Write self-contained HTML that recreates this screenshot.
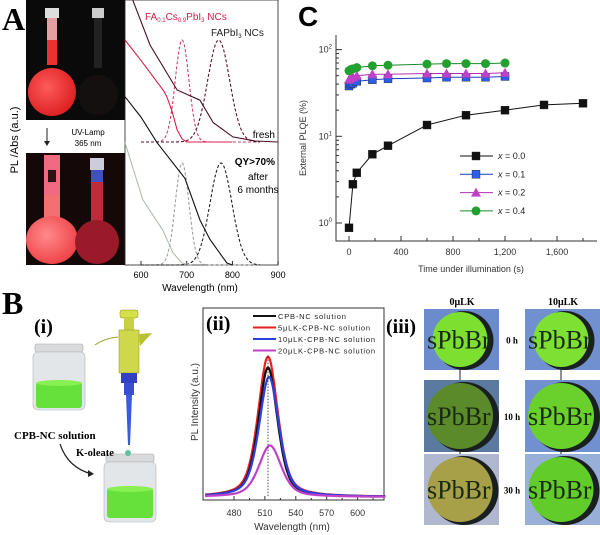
<!DOCTYPE html>
<html><head><meta charset="utf-8"><style>
html,body{margin:0;padding:0;background:#fff}
svg{display:block;font-family:"Liberation Sans",sans-serif}
.ser{font-family:"Liberation Serif",serif;font-weight:bold}
</style></head><body>
<svg id="fig" width="600" height="535" viewBox="0 0 600 535" xmlns="http://www.w3.org/2000/svg">
<defs>
<radialGradient id="redg" cx="0.4" cy="0.4" r="0.7"><stop offset="0" stop-color="#ff5a5a"/><stop offset="1" stop-color="#d81a1a"/></radialGradient>
<radialGradient id="pinkg" cx="0.4" cy="0.4" r="0.7"><stop offset="0" stop-color="#ff8a8a"/><stop offset="1" stop-color="#ee3a40"/></radialGradient>
</defs>
<!-- Panel A -->
<text x="2" y="30" class="ser" font-size="32">A</text>
<g>
<rect x="26" y="0" width="99" height="120" fill="#0a0a0a"/>
<rect x="45" y="8" width="14" height="10" fill="#ddd"/>
<rect x="47" y="18" width="10" height="22" fill="#e4a0a0"/>
<rect x="47" y="40" width="10" height="25" fill="#ef3030"/>
<ellipse cx="52" cy="92" rx="24" ry="24" fill="url(#redg)"/>
<rect x="92" y="8" width="12" height="10" fill="#ccc"/>
<rect x="94" y="18" width="8" height="50" fill="#222"/>
<ellipse cx="98" cy="95" rx="20" ry="20" fill="#141010"/>
</g>
<g>
<line x1="47" y1="128" x2="47" y2="144" stroke="#222" stroke-width="1"/>
<path d="M44 141 L47 146 L50 141 Z" fill="#222"/>
<text x="88" y="135" font-size="8" text-anchor="middle">UV-Lamp</text>
<text x="88" y="146" font-size="8" text-anchor="middle">365 nm</text>
</g>
<g>
<rect x="26" y="153" width="99" height="112" fill="#140808"/>
<rect x="44" y="155" width="16" height="40" fill="#f06a80"/>
<rect x="48" y="170" width="8" height="12" fill="#301010"/>
<rect x="44" y="195" width="16" height="25" fill="#f27070"/>
<ellipse cx="52" cy="240" rx="26" ry="24" fill="url(#pinkg)"/>
<rect x="90" y="158" width="14" height="12" fill="#ccd"/>
<rect x="91" y="170" width="12" height="12" fill="#4050c0"/>
<rect x="91" y="182" width="12" height="40" fill="#c22a3a"/>
<ellipse cx="97" cy="242" rx="22" ry="22" fill="#9a1a2a"/>
</g>
<text transform="translate(18,140) rotate(-90)" font-size="11" text-anchor="middle">PL /Abs (a.u.)</text>
<g id="panelA"></g>
<!-- Panel C -->
<text x="298" y="26" font-size="28" font-weight="bold">C</text>
<g id="panelC"></g>
<!-- Panel B -->
<text x="2" y="314" class="ser" font-size="32">B</text>
<text x="34" y="333" class="ser" font-size="20">(i)</text>
<g>
<rect x="35" y="344" width="48" height="8" rx="2" fill="#d8dadc" stroke="#aaa" stroke-width="0.6"/>
<rect x="33" y="352" width="52" height="58" rx="5" fill="#e2e6e8" stroke="#b0b4b8" stroke-width="0.6"/>
<rect x="36" y="382" width="46" height="26" rx="3" fill="#66e03a"/>
<ellipse cx="59" cy="383" rx="23" ry="3" fill="#88f050"/>
<text x="14" y="439" class="ser" font-size="11">CPB-NC solution</text>
<path d="M60 444 Q68 468 92 474" fill="none" stroke="#222" stroke-width="1.2"/>
<path d="M88 470 L94 474 L88 477 Z" fill="#222"/>
<rect x="106" y="454" width="48" height="8" rx="2" fill="#d8dadc" stroke="#aaa" stroke-width="0.6"/>
<rect x="104" y="462" width="52" height="60" rx="5" fill="#e2e6e8" stroke="#b0b4b8" stroke-width="0.6"/>
<rect x="107" y="488" width="46" height="30" rx="3" fill="#66e03a"/>
<ellipse cx="130" cy="489" rx="23" ry="3" fill="#88f050"/>
<ellipse cx="128" cy="453" rx="3" ry="3" fill="#5fc0a0"/>
<text x="76" y="456" class="ser" font-size="10.5">K-oleate</text>
</g>
<g>
<rect x="120" y="310" width="18" height="8" rx="2" fill="#d6e04a" stroke="#8a9020" stroke-width="0.5"/>
<rect x="124" y="318" width="10" height="12" fill="#c8d040"/>
<rect x="119" y="330" width="20" height="43" fill="#cfd84a" stroke="#8a9020" stroke-width="0.5"/>
<path d="M139 334 L152 333 L140 346 Z" fill="#b8c038"/>
<path d="M95 345 Q105 338 118 337" fill="none" stroke="#9aa030" stroke-width="1"/>
<rect x="121" y="373" width="16" height="10" fill="#3040c0"/>
<rect x="124" y="383" width="10" height="12" fill="#3a4cd0"/>
<path d="M126 395 L132 395 L130 445 L128 445 Z" fill="#3a5ae0"/>
</g>
<!-- Panel ii -->
<g id="panelB2"></g>
<!-- Panel iii -->
<text x="386" y="333" class="ser" font-size="20">(iii)</text>
<text x="462" y="305" class="ser" font-size="10" text-anchor="middle">0μLK</text>
<text x="563" y="305" class="ser" font-size="10" text-anchor="middle">10μLK</text>
<g id="panelIII"></g>
</svg>
<script>
var NS="http://www.w3.org/2000/svg";
function mk(parent,tag,attrs){var e=document.createElementNS(NS,tag);for(var k in attrs)e.setAttribute(k,attrs[k]);parent.appendChild(e);return e;}
function tx(parent,x,y,s,attrs){var e=mk(parent,"text",Object.assign({x:x,y:y},attrs||{}));e.textContent=s;return e;}

/* ---------- Panel A data ---------- */
var aTicks=[600,700,800,900];
var aPLpeaks=[690,770,690,775];
var aPLheights=[1.0,1.0,1.0,1.0];
var aPLwidths=[15,24,15,24];
var aAbsRedWl=[565,600,630,650,657,668,679,690,700,800];
var aAbsRedVal=[1.0,0.8,0.62,0.5,0.44,0.3,0.12,0.03,0,0];
var aAbsMarWl=[582,620,679,729,758,801,850,900];
var aAbsMarVal=[1.39,0.95,0.51,0.41,0.19,0.05,0.01,0];
var aAbsBlkWl=[565,600,635,696,729,751,788,800];
var aAbsBlkVal=[1.65,1.45,1.2,0.85,0.44,0.25,0.02,0];
var aAbsGryWl=[565,604,648,670,690,710];
var aAbsGryVal=[1.2,0.64,0.34,0.12,0.02,0];
(function(){
 var g=document.getElementById("panelA");
 var X0=125,X1=278,B1=142,B2=265,H=102;
 function xs(l){return 141+(l-600)*0.457;}
 mk(g,"rect",{x:X0,y:0,width:X1-X0,height:265,fill:"#fff",stroke:"#222","stroke-width":0.8});
 aTicks.forEach(function(t){var x=xs(t);var tk=mk(g,"line",{x1:x,y1:265,x2:x,y2:261,stroke:"#222"});
  
  var l=tx(g,x,278,t,{"font-size":9,"text-anchor":"middle"});
  });
 var t=tx(g,200,291,"Wavelength (nm)",{"font-size":10,"text-anchor":"middle"});
 
 function clipPath(pts){return pts.map(function(p,i){return (i?"L":"M")+p[0].toFixed(1)+" "+Math.max(0,p[1]).toFixed(1);}).join(" ");}
 function pl(i,base,color){var pts=[];for(var l=600;l<=860;l+=2){var v=aPLheights[i]*Math.exp(-Math.pow(l-aPLpeaks[i],2)/(2*aPLwidths[i]*aPLwidths[i]));pts.push([xs(l),base-v*H]);}
  return mk(g,"path",{d:clipPath(pts),fill:"none",stroke:color,"stroke-width":1.1,"stroke-dasharray":"3,2"});}
 function ab(wl,val,base,color){var pts=wl.map(function(l,i){return [Math.max(X0,xs(l)),base-val[i]*H];});
  return mk(g,"path",{d:clipPath(pts),fill:"none",stroke:color,"stroke-width":1.1});}
 var e;
 e=pl(0,B1,"#d04070");
 e=pl(1,B1,"#5a1030");
 e=ab(aAbsRedWl,aAbsRedVal,B1,"#d8204a");
 e=ab(aAbsMarWl,aAbsMarVal,B1,"#4a0c28");
 e=pl(2,B2,"#9aa0a0");
 e=pl(3,B2,"#222");
 e=ab(aAbsGryWl,aAbsGryVal,B2,"#b0bcb0");
 e=ab(aAbsBlkWl,aAbsBlkVal,B2,"#111");
 var lt=mk(g,"text",{x:145,y:20,"font-size":10,fill:"#d0204a"});lt.innerHTML='FA<tspan font-size="6" dy="2">0.1</tspan><tspan dy="-2">Cs</tspan><tspan font-size="6" dy="2">0.9</tspan><tspan dy="-2">PbI</tspan><tspan font-size="6" dy="2">3</tspan><tspan dy="-2"> NCs</tspan>';
 
 var lt2=mk(g,"text",{x:211,y:36,"font-size":10,fill:"#222"});lt2.innerHTML='FAPbI<tspan font-size="6" dy="2">3</tspan><tspan dy="-2"> NCs</tspan>';
 
 e=tx(g,275,138,"fresh",{"font-size":10,"text-anchor":"end"});
 e=tx(g,275,165,"QY>70%",{"font-size":10,"font-weight":"bold","text-anchor":"end"});
 e=tx(g,258,180,"after",{"font-size":10,"text-anchor":"middle"});
 e=tx(g,258,193,"6 months",{"font-size":10,"text-anchor":"middle"});
})();

/* ---------- Panel C data ---------- */
var cT0=[0,30,60,180,300,600,900,1200,1500,1800];
var cV0=[0.88,2.8,3.8,6.2,7.8,13.5,17.5,20,23,24];
var cT=[0,15,30,60,180,300,600,750,900,1050,1200];
var cV1=[38,40,41,43,45,46,47,48,48,48,49];
var cV2=[45,47,48,50,52,52,53,53,53,53,54];
var cV4=[57,59,60,62,65,66,68,69,69,69,70];
var cXTicks=[0,400,800,1200,1600];
var cXTickLabels=["0","400","800","1,200","1,600"];
var cYDecades=[0,1,2];
var cLegend=["x = 0.0","x = 0.1","x = 0.2","x = 0.4"];
(function(){
 var g=document.getElementById("panelC");
 function xs(t){return 349+t*0.13;}
 function ys(v){return 223-Math.log10(v)*86.7;}
 var ax=mk(g,"path",{d:"M336 35 L336 241 L597 241",fill:"none",stroke:"#333","stroke-width":1});
 cXTicks.forEach(function(t,i){var x=xs(t);var k=mk(g,"line",{x1:x,y1:241,x2:x,y2:236,stroke:"#333"});
  var m=mk(g,"line",{x1:x+26,y1:241,x2:x+26,y2:238,stroke:"#333"});
  var l=tx(g,x,255,cXTickLabels[i],{"font-size":9,"text-anchor":"middle",fill:"#333"});});
 cYDecades.forEach(function(d){var y=ys(Math.pow(10,d));var k=mk(g,"line",{x1:336,y1:y,x2:342,y2:y,stroke:"#333"});
  var l=mk(g,"text",{x:332,y:y+3,"font-size":9,"text-anchor":"end",fill:"#333"});l.innerHTML='10<tspan font-size="6" dy="-4">'+d+'</tspan>';
  if(d<2)for(var m=2;m<10;m++){var yy=ys(m*Math.pow(10,d));var mt=mk(g,"line",{x1:336,y1:yy,x2:339,y2:yy,stroke:"#333"});}});
 var yt=tx(g,0,0,"External PLQE (%)",{"font-size":9,"text-anchor":"middle",transform:"translate(306,138) rotate(-90)",fill:"#333"});
 var xt=tx(g,471,272,"Time under illumination (s)",{"font-size":9,"text-anchor":"middle",fill:"#333"});
 function marker(x,y,kind,col){
  if(kind==="sq")return mk(g,"rect",{x:x-4,y:y-4,width:8,height:8,fill:col,stroke:"#222","stroke-width":0.4});
  if(kind==="tri")return mk(g,"path",{d:"M"+x+" "+(y-5)+" L"+(x+5)+" "+(y+4)+" L"+(x-5)+" "+(y+4)+" Z",fill:col});
  return mk(g,"circle",{cx:x,cy:y,r:4.5,fill:col});}
 var series=[[cT0,cV0,"sq","#111","#111"],[cT,cV1,"sq","#2a5de8","#1a3cc0"],[cT,cV2,"tri","#c040c8","#b030b8"],[cT,cV4,"circ","#22a030","#1a8a28"]];
 var names=["series-x00","series-x01","series-x02","series-x04"];
 series.forEach(function(s,si){
  var d=s[0].map(function(t,i){return (i?"L":"M")+xs(t).toFixed(1)+" "+ys(s[1][i]).toFixed(1);}).join(" ");
  var p=mk(g,"path",{d:d,fill:"none",stroke:s[4],"stroke-width":1});
  s[0].forEach(function(t,i){var m=marker(xs(t),ys(s[1][i]),s[2],s[3]);});
  var ly=156+si*18.3;
  var ll=mk(g,"line",{x1:460,y1:ly,x2:493,y2:ly,stroke:s[4],"stroke-width":1});
  var lm=marker(476,ly,s[2],s[3]);
  var lt=mk(g,"text",{x:498,y:ly+3,"font-size":9,fill:"#222"});lt.innerHTML='<tspan font-style="italic">x</tspan>'+cLegend[si].slice(1);
  });
})();

/* ---------- Panel B(ii) data ---------- */
var b2Peaks=[513,513,514,515];
var b2Heights=[0.83,0.9,0.77,0.33];
var b2Widths=[11,11.5,11.5,13];
var b2Labels=["CPB-NC solution","5μLK-CPB-NC solution","10μLK-CPB-NC solution","20μLK-CPB-NC solution"];
var b2Colors=["#111","#e82020","#2a40e0","#c040c8"];
var b2Ticks=[480,510,540,570,600];
(function(){
 var g=document.getElementById("panelB2");
 var L=203,R=384,T=308,B=500,base=497,H=156;
 function xs(l){return 234+(l-480)*1.03;}
 var fr=mk(g,"rect",{x:L,y:T,width:R-L,height:B-T,fill:"#fff",stroke:"#333","stroke-width":1});
 b2Ticks.forEach(function(t){var x=xs(t);var k=mk(g,"line",{x1:x,y1:B,x2:x,y2:B-4,stroke:"#333"});
  var m=mk(g,"line",{x1:x+15.5,y1:B,x2:x+15.5,y2:B-2,stroke:"#333"});
  var l=tx(g,x,516,t,{"font-size":9,"text-anchor":"middle",fill:"#333"});});
 var xt=tx(g,292,530,"Wavelength (nm)",{"font-size":10,"text-anchor":"middle",fill:"#333"});
 var yt=tx(g,0,0,"PL Intensity (a.u.)",{"font-size":10,"text-anchor":"middle",transform:"translate(198,402) rotate(-90)",fill:"#333"});
 var order=[1,0,2,3];
 order.forEach(function(i){var pts=[];for(var l=452;l<=627;l+=1){var u=(l-b2Peaks[i])/b2Widths[i];var v=b2Heights[i]*(0.5/(1+u*u)+0.5*Math.exp(-u*u*0.7));pts.push((pts.length?"L":"M")+xs(l).toFixed(1)+" "+(base-v*H).toFixed(1));}
  var p=mk(g,"path",{d:pts.join(" "),fill:"none",stroke:b2Colors[i],"stroke-width":2.2});});
 var dl=mk(g,"line",{x1:xs(513),y1:base-b2Heights[1]*H,x2:xs(513),y2:base,stroke:"#222","stroke-width":0.8,"stroke-dasharray":"1.5,1.5"});
 b2Labels.forEach(function(s,i){var y=316+i*11.5;var ll=mk(g,"line",{x1:253,y1:y,x2:276,y2:y,stroke:b2Colors[i],"stroke-width":2});
  var lt=tx(g,278,y+3,s,{"font-size":7.5,"letter-spacing":"0.8",fill:"#222"});});
 var lab=tx(g,206,330,"(ii)",{"font-size":20,"class":"ser"});
})();

/* ---------- Panel B(iii) photos ---------- */
var iiiCols=[424,525];
var iiiRows=[[309,61],[380,72],[454,71]];
var iiiFill=[["#7de030","#5a8a2a","#a8a048"],["#7ee032","#6ad02c","#62cc2a"]];
var iiiBg=[["#6a8ccc","#5a7aa0","#b0b8d0"],["#7090d0","#7090d0","#98b0d8"]];
var iiiHours=["0 h","10 h","30 h"];
(function(){
 var g=document.getElementById("panelIII");
 var defs=mk(g,"defs",{});
 var n=0;
 iiiCols.forEach(function(cx,c){iiiRows.forEach(function(r,i){
  var cp=mk(defs,"clipPath",{id:"cp"+n});mk(cp,"rect",{x:cx,y:r[0],width:75,height:r[1]});
  var grp=mk(g,"g",{"clip-path":"url(#cp"+n+")"});n++;
  var bg=mk(grp,"rect",{x:cx,y:r[0],width:75,height:r[1],fill:iiiBg[c][i]});
  var sh=mk(grp,"circle",{cx:cx+40,cy:r[0]+r[1]/2+1,r:r[1]/2-1,fill:"#1a2020"});
  var ci=mk(grp,"circle",{cx:cx+36,cy:r[0]+r[1]/2,r:r[1]/2-3,fill:iiiFill[c][i]});
  var t=tx(grp,cx+3,r[0]+r[1]/2+9,"sPbBr",{"font-size":26,"font-family":"Liberation Serif,serif",fill:"#1a2a10"});
  if(i<2){var a=mk(g,"line",{x1:cx+36,y1:r[0]+r[1]-2,x2:cx+36,y2:iiiRows[i+1][0]+6,stroke:"#222","stroke-width":1});}
 });});
 iiiRows.forEach(function(r,i){var t=tx(g,512,r[0]+r[1]/2+4,iiiHours[i],{"font-size":9,"class":"ser","text-anchor":"middle"});});
})();
</script>
</body></html>
